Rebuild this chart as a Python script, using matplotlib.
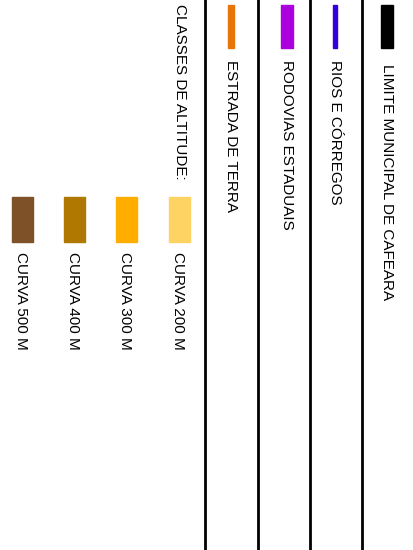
import matplotlib.pyplot as plt
from matplotlib.patches import Rectangle

plt.rcParams['font.family'] = ['Liberation Sans', 'DejaVu Sans']

# legend items (map legend, drawn rotated)
line_labels = ['LIMITE MUNICIPAL DE CAFEARA', 'RIOS E CÓRREGOS', 'RODOVIAS ESTADUAIS', 'ESTRADA DE TERRA']
line_colors = ['#000000', '#3300DD', '#AA00DD', '#E8750A']
alt_title = 'CLASSES DE ALTITUDE:'
alt_labels = ['CURVA 200 M', 'CURVA 300 M', 'CURVA 400 M', 'CURVA 500 M']
alt_colors = ['#FFD264', '#FFAE00', '#B07800', '#7F5129']

fig = plt.figure(figsize=(4.14, 5.5), dpi=100)
ax = fig.add_axes([0, 0, 1, 1])
ax.set_xlim(0, 414)
ax.set_ylim(550, 0)
ax.axis('off')

# layout (pixel coords)
col_x = [387, 335, 287, 231]
text_y = [64, 60, 60, 60]
sw_w = [12, 4, 12, 6]
sep_x = [362, 310, 258, 205]
fs = 11

for x in sep_x:
    ax.axvline(x, color='black', lw=2)
ax.axvline(413.5, color='#999999', lw=0.6)

for x, ty, w, lab, c in zip(col_x, text_y, sw_w, line_labels, line_colors):
    ax.add_patch(Rectangle((x - w / 2, 5), w, 43, color=c))
    ax.text(x, ty, lab, rotation=270, ha='center', va='top', fontsize=fs)

ax.text(180, 4, alt_title, rotation=270, ha='center', va='top', fontsize=fs)

alt_x = [180, 127, 75, 23]
for x, lab, c in zip(alt_x, alt_labels, alt_colors):
    ax.add_patch(Rectangle((x - 10.5, 197), 21, 45, color=c))
    ax.text(x - 2, 252, lab, rotation=270, ha='center', va='top', fontsize=fs)

fig.savefig('out.png', dpi=100)
